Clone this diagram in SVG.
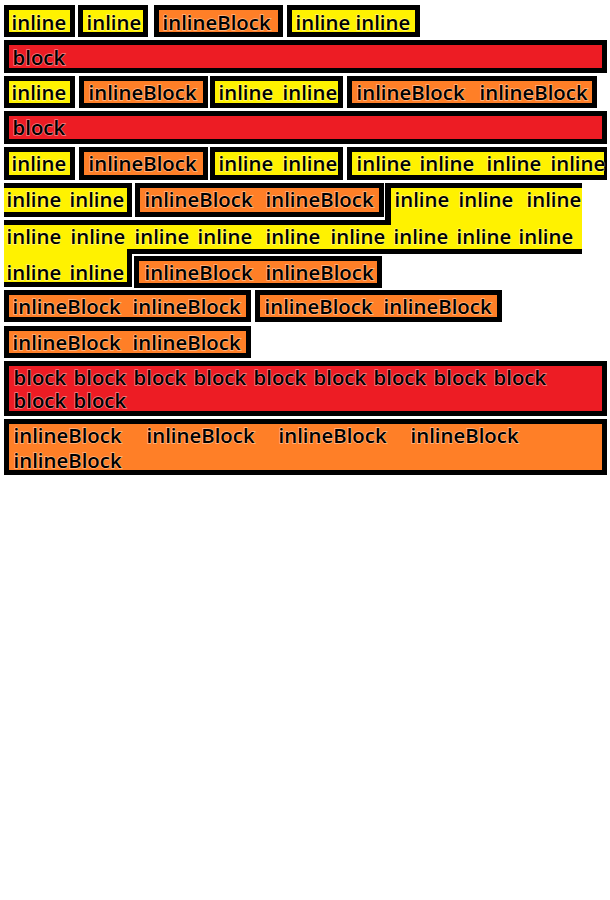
<svg xmlns="http://www.w3.org/2000/svg" width="610" height="900" viewBox="0 0 610 900">
<style>
.k{fill:#000}
.y{fill:#FFF200}
.o{fill:#FF7F27}
.r{fill:#ED1C24}
.t{font-family:"Open Sans","Noto Sans",sans-serif;font-size:20.4px;font-weight:600;fill:#000;stroke:#fff;stroke-opacity:.45;stroke-width:1.4px;paint-order:stroke}
</style>
<rect width="610" height="900" fill="#fff"/>
<g id="connectors"/>
<!-- Row 1 -->
<g id="r1-inline-a"><rect class="k" x="4" y="5" width="71" height="32"/><rect class="y" x="9" y="10" width="61" height="22"/><text class="t" x="11.5" y="29.5">inline</text></g>
<g id="r1-inline-b"><rect class="k" x="78" y="5" width="70" height="32"/><rect class="y" x="83" y="10" width="60" height="22"/><text class="t" x="86.5" y="29.5">inline</text></g>
<g id="r1-inlineblock"><rect class="k" x="154" y="5" width="129" height="32"/><rect class="o" x="159" y="10" width="119" height="22"/><text class="t" x="162.5" y="29.5">inlineBlock</text></g>
<g id="r1-inline-c"><rect class="k" x="287" y="5" width="133" height="32"/><rect class="y" x="292" y="10" width="123" height="22"/><text class="t" y="29.5"><tspan x="295.5">inline</tspan><tspan x="355.5">inline</tspan></text></g>
<!-- Row 2 -->
<g id="r2-block"><rect class="k" x="4" y="40" width="603" height="33"/><rect class="r" x="9" y="45" width="593" height="23"/><text class="t" x="12.5" y="64.5">block</text></g>
<!-- Row 3 -->
<g id="r3-inline-a"><rect class="k" x="4" y="76" width="71" height="32"/><rect class="y" x="9" y="81" width="61" height="22"/><text class="t" x="11.5" y="100">inline</text></g>
<g id="r3-inlineblock-a"><rect class="k" x="79" y="76" width="129" height="32"/><rect class="o" x="84" y="81" width="119" height="22"/><text class="t" x="88.5" y="100">inlineBlock</text></g>
<g id="r3-inline-b"><rect class="k" x="210" y="76" width="133" height="32"/><rect class="y" x="215" y="81" width="123" height="22"/><text class="t" y="100"><tspan x="218.5">inline</tspan><tspan x="282.5">inline</tspan></text></g>
<g id="r3-inlineblock-b"><rect class="k" x="347" y="76" width="250" height="32"/><rect class="o" x="352" y="81" width="240" height="22"/><text class="t" y="100"><tspan x="356.5">inlineBlock</tspan><tspan x="479.5">inlineBlock</tspan></text></g>
<!-- Row 4 -->
<g id="r4-block"><rect class="k" x="4" y="111" width="603" height="33"/><rect class="r" x="9" y="116" width="593" height="23"/><text class="t" x="12.5" y="135">block</text></g>
<!-- Row 5 -->
<g id="r5-inline-a"><rect class="k" x="4" y="147" width="71" height="33"/><rect class="y" x="9" y="152" width="61" height="23"/><text class="t" x="11.5" y="171">inline</text></g>
<g id="r5-inlineblock"><rect class="k" x="79" y="147" width="129" height="33"/><rect class="o" x="84" y="152" width="119" height="23"/><text class="t" x="88.5" y="171">inlineBlock</text></g>
<g id="r5-inline-b"><rect class="k" x="210" y="147" width="133" height="33"/><rect class="y" x="215" y="152" width="123" height="23"/><text class="t" y="171"><tspan x="218.5">inline</tspan><tspan x="282.5">inline</tspan></text></g>
<g id="r5-inline-wrap">
<rect class="k" x="347" y="147" width="260" height="33"/><rect class="y" x="352" y="152" width="252" height="23"/>
<rect class="k" x="4" y="183" width="128" height="34"/><rect class="y" x="4" y="188" width="123" height="24"/>
<text class="t" y="171"><tspan x="356.5">inline</tspan><tspan x="419.5">inline</tspan><tspan x="486.5">inline</tspan><tspan x="550.5">inline</tspan></text>
<text class="t" y="207"><tspan x="6.5">inline</tspan><tspan x="69.5">inline</tspan></text>
</g>
<!-- Row 6 -->
<g id="r6-inlineblock"><rect class="k" x="135" y="183" width="249" height="34"/><rect class="o" x="140" y="188" width="239" height="24"/><text class="t" y="207"><tspan x="144.5">inlineBlock</tspan><tspan x="265.5">inlineBlock</tspan></text></g>
<g id="r6-r8-inline-multiline">
<rect class="k" x="385" y="183" width="197" height="43"/>
<rect class="k" x="4" y="220" width="578" height="34"/>
<rect class="k" x="4" y="248" width="128" height="39"/>
<rect class="y" x="391" y="188" width="191" height="38"/>
<rect class="y" x="4" y="225" width="578" height="24"/>
<rect class="y" x="4" y="240" width="123" height="42"/>
<text class="t" y="207"><tspan x="394.5">inline</tspan><tspan x="458.5">inline</tspan><tspan x="526.5">inline</tspan></text>
<text class="t" y="244"><tspan x="6.5">inline</tspan><tspan x="70.5">inline</tspan><tspan x="134.5">inline</tspan><tspan x="197.5">inline</tspan><tspan x="265.5">inline</tspan><tspan x="330.5">inline</tspan><tspan x="393.5">inline</tspan><tspan x="456.5">inline</tspan><tspan x="518.5">inline</tspan></text>
<text class="t" y="280"><tspan x="6.5">inline</tspan><tspan x="69.5">inline</tspan></text>
</g>
<!-- Row 8 -->
<g id="r8-inlineblock"><rect class="k" x="134" y="256" width="248" height="32"/><rect class="o" x="139" y="261" width="238" height="22"/><text class="t" y="280"><tspan x="144.5">inlineBlock</tspan><tspan x="265.5">inlineBlock</tspan></text></g>
<!-- Row 9 -->
<g id="r9-inlineblock-a"><rect class="k" x="4" y="290" width="247" height="32"/><rect class="o" x="9" y="295" width="237" height="22"/><text class="t" y="314"><tspan x="12.5">inlineBlock</tspan><tspan x="132.5">inlineBlock</tspan></text></g>
<g id="r9-inlineblock-b"><rect class="k" x="255" y="290" width="247" height="32"/><rect class="o" x="260" y="295" width="237" height="22"/><text class="t" y="314"><tspan x="264.5">inlineBlock</tspan><tspan x="383.5">inlineBlock</tspan></text></g>
<!-- Row 10 -->
<g id="r10-inlineblock"><rect class="k" x="4" y="326" width="247" height="32"/><rect class="o" x="9" y="331" width="237" height="22"/><text class="t" y="350"><tspan x="12.5">inlineBlock</tspan><tspan x="132.5">inlineBlock</tspan></text></g>
<!-- Row 11 -->
<g id="r11-block"><rect class="k" x="4" y="361" width="603" height="55"/><rect class="r" x="9" y="366" width="593" height="45"/>
<text class="t" y="385"><tspan x="13.5">block</tspan><tspan x="73.5">block</tspan><tspan x="133.5">block</tspan><tspan x="193.5">block</tspan><tspan x="253.5">block</tspan><tspan x="313.5">block</tspan><tspan x="373.5">block</tspan><tspan x="433.5">block</tspan><tspan x="493.5">block</tspan></text>
<text class="t" y="408"><tspan x="13.5">block</tspan><tspan x="73.5">block</tspan></text></g>
<!-- Row 12 -->
<g id="r12-inlineblock"><rect class="k" x="4" y="419" width="603" height="56"/><rect class="o" x="9" y="424" width="593" height="46"/>
<text class="t" y="443"><tspan x="13.5">inlineBlock</tspan><tspan x="146.5">inlineBlock</tspan><tspan x="278.5">inlineBlock</tspan><tspan x="410.5">inlineBlock</tspan></text>
<text class="t" x="13.5" y="468">inlineBlock</text></g>
</svg>
